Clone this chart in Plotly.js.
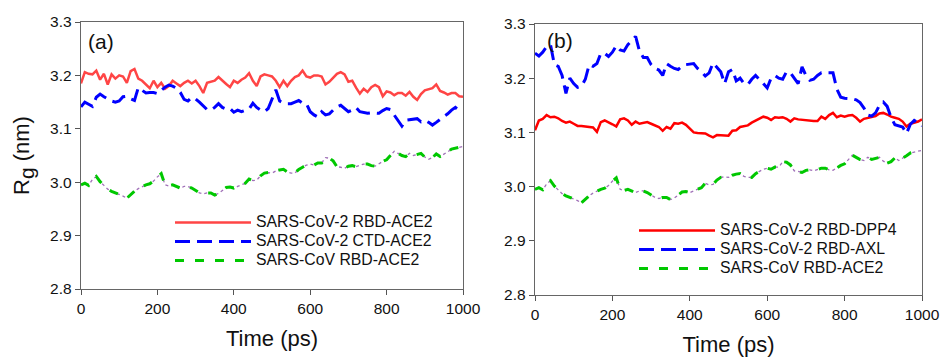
<!DOCTYPE html>
<html>
<head>
<meta charset="utf-8">
<script src="https://cdn.plot.ly/plotly-3.0.1.min.js"></script>
<style>
  html, body { margin: 0; padding: 0; background: #fff; }
  #chart { width: 940px; height: 357px; }
</style>
</head>
<body>
<div id="chart"></div>
<script>
// Time (ps)
const time = [0,10,20,30,40,50,60,70,80,90,100,110,120,130,140,150,160,170,180,190,200,210,220,230,240,250,260,270,280,290,300,310,320,330,340,350,360,370,380,390,400,410,420,430,440,450,460,470,480,490,500,510,520,530,540,550,560,570,580,590,600,610,620,630,640,650,660,670,680,690,700,710,720,730,740,750,760,770,780,790,800,810,820,830,840,850,860,870,880,890,900,910,920,930,940,950,960,970,980,990,1000];

// Panel (a): SARS-CoV-2 RBD-ACE2
const rgCov2RbdAce2 = [3.185,3.206,3.203,3.202,3.209,3.192,3.203,3.183,3.202,3.194,
  3.200,3.198,3.186,3.208,3.212,3.194,3.190,3.182,3.176,3.190,
  3.178,3.186,3.175,3.180,3.190,3.185,3.180,3.186,3.190,3.185,
  3.190,3.180,3.167,3.186,3.188,3.190,3.197,3.190,3.184,3.178,
  3.190,3.186,3.192,3.196,3.204,3.190,3.180,3.198,3.202,3.200,
  3.198,3.190,3.178,3.190,3.180,3.190,3.197,3.200,3.209,3.198,
  3.196,3.200,3.200,3.198,3.183,3.188,3.195,3.203,3.206,3.202,
  3.188,3.190,3.177,3.166,3.175,3.169,3.178,3.182,3.178,3.161,
  3.170,3.168,3.163,3.167,3.167,3.162,3.169,3.160,3.154,3.165,
  3.172,3.174,3.176,3.183,3.171,3.168,3.164,3.167,3.167,3.161,3.160];

// Panel (a): SARS-CoV-2 CTD-ACE2
const rgCov2CtdAce2 = [3.141,3.150,3.146,3.142,3.159,3.165,3.160,3.156,3.152,3.150,
  3.152,3.160,3.161,3.156,3.153,3.177,3.172,3.167,3.168,3.168,
  3.166,3.172,3.178,3.182,3.180,3.176,3.168,3.155,3.152,3.159,
  3.156,3.150,3.142,3.136,3.135,3.140,3.147,3.140,3.137,3.138,
  3.131,3.135,3.132,3.135,3.137,3.148,3.140,3.135,3.132,3.138,
  3.155,3.173,3.152,3.148,3.147,3.147,3.150,3.153,3.148,3.147,
  3.132,3.126,3.122,3.132,3.126,3.128,3.135,3.141,3.144,3.138,
  3.132,3.135,3.140,3.132,3.130,3.129,3.130,3.130,3.129,3.134,
  3.138,3.136,3.125,3.115,3.105,3.116,3.117,3.118,3.119,3.113,
  3.116,3.112,3.107,3.112,3.118,3.123,3.128,3.135,3.140,3.134,3.132];

// Both panels: SARS-CoV RBD-ACE2
const rgCovRbdAce2 = [2.995,2.998,2.994,3.005,3.011,3.001,2.994,2.987,2.983,2.980,
  2.978,2.974,2.970,2.977,2.983,2.988,2.992,2.995,2.997,3.002,
  3.010,3.016,2.995,2.993,2.995,2.992,2.989,2.992,2.992,2.989,
  2.984,2.980,2.978,2.980,2.980,2.976,2.979,2.985,2.990,2.991,
  2.989,2.992,2.995,2.998,3.006,3.003,3.004,3.012,3.017,3.018,
  3.017,3.021,3.023,3.024,3.019,3.017,3.017,3.024,3.028,3.032,
  3.034,3.032,3.036,3.036,3.046,3.045,3.040,3.029,3.028,3.026,
  3.030,3.031,3.029,3.032,3.034,3.034,3.031,3.030,3.035,3.039,
  3.042,3.050,3.058,3.054,3.050,3.048,3.054,3.050,3.052,3.054,
  3.047,3.043,3.046,3.053,3.048,3.052,3.057,3.062,3.064,3.066,3.067];

// Panel (b): SARS-CoV-2 RBD-DPP4
const rgCov2RbdDpp4 = [3.104,3.122,3.125,3.132,3.128,3.129,3.126,3.121,3.118,3.120,
  3.116,3.112,3.112,3.111,3.111,3.109,3.101,3.119,3.122,3.119,
  3.115,3.111,3.124,3.126,3.122,3.114,3.120,3.116,3.118,3.119,
  3.116,3.113,3.110,3.103,3.110,3.107,3.117,3.116,3.118,3.114,
  3.106,3.100,3.099,3.098,3.098,3.094,3.091,3.095,3.095,3.094,
  3.094,3.103,3.104,3.110,3.112,3.113,3.118,3.122,3.126,3.129,
  3.127,3.123,3.128,3.127,3.128,3.125,3.120,3.126,3.124,3.123,
  3.122,3.122,3.121,3.121,3.129,3.125,3.132,3.136,3.128,3.131,
  3.129,3.131,3.132,3.127,3.120,3.125,3.127,3.128,3.130,3.135,
  3.136,3.133,3.129,3.127,3.125,3.120,3.111,3.116,3.118,3.120,3.124];

// Panel (b): SARS-CoV-2 RBD-AXL
const rgCov2RbdAxl = [3.246,3.241,3.248,3.258,3.262,3.225,3.222,3.205,3.172,3.200,
  3.190,3.183,3.185,3.198,3.225,3.222,3.227,3.246,3.246,3.240,
  3.248,3.260,3.252,3.250,3.262,3.270,3.277,3.250,3.238,3.238,
  3.225,3.218,3.215,3.205,3.227,3.222,3.218,3.216,3.222,3.225,
  3.226,3.227,3.218,3.212,3.204,3.210,3.228,3.220,3.212,3.190,
  3.212,3.216,3.195,3.200,3.190,3.188,3.198,3.205,3.198,3.190,
  3.182,3.200,3.205,3.200,3.198,3.212,3.210,3.200,3.190,3.221,
  3.205,3.196,3.198,3.205,3.210,3.210,3.210,3.210,3.180,3.165,
  3.163,3.163,3.162,3.160,3.155,3.145,3.132,3.130,3.136,3.150,
  3.156,3.148,3.128,3.114,3.112,3.110,3.098,3.115,3.122,3.118,3.112];

const xTicks = [0,200,400,600,800,1000];
const yTicks = [2.8,2.9,3.0,3.1,3.2,3.3];

const FONT = 'Arial, "Liberation Sans", sans-serif';
const purple = '#a070b8';

function dotsUnder(y, xa, ya) {
  return {x: time, y: y, xaxis: xa, yaxis: ya, mode: 'lines', showlegend: false, hoverinfo: 'skip',
          line: {color: purple, width: 1.3, dash: 'dot'}};
}
function lbl(s) { return '<span style="font-size:15.8px">' + s + '</span>'; }

const data = [
  // panel a
  dotsUnder(rgCovRbdAce2, 'x', 'y'),
  {x: time, y: rgCov2RbdAce2, xaxis: 'x', yaxis: 'y', mode: 'lines', name: lbl('SARS-CoV-2 RBD-ACE2'),
   legend: 'legend', line: {color: '#ff4545', width: 2.5}},
  {x: time, y: rgCov2CtdAce2, xaxis: 'x', yaxis: 'y', mode: 'lines', name: lbl('SARS-CoV-2 CTD-ACE2'),
   legend: 'legend', line: {color: '#0000ff', width: 3, dash: '15px,7px'}},
  {x: time, y: rgCovRbdAce2, xaxis: 'x', yaxis: 'y', mode: 'lines', name: lbl('SARS-CoV RBD-ACE2'),
   legend: 'legend', line: {color: '#00c800', width: 3, dash: '9px,11px'}},
  // panel b
  dotsUnder(rgCovRbdAce2, 'x2', 'y2'),
  {x: time, y: rgCov2RbdDpp4, xaxis: 'x2', yaxis: 'y2', mode: 'lines', name: lbl('SARS-CoV-2 RBD-DPP4'),
   legend: 'legend2', line: {color: '#ff0000', width: 2.5}},
  {x: time, y: rgCov2RbdAxl, xaxis: 'x2', yaxis: 'y2', mode: 'lines', name: lbl('SARS-CoV-2 RBD-AXL'),
   legend: 'legend2', line: {color: '#0000ff', width: 3, dash: '15px,7px'}},
  {x: time, y: rgCovRbdAce2, xaxis: 'x2', yaxis: 'y2', mode: 'lines', name: lbl('SARS-CoV RBD-ACE2'),
   legend: 'legend2', line: {color: '#00c800', width: 3, dash: '9px,11px'}}
];

function xAxis(domain, anchor) {
  return {domain: domain, anchor: anchor, range: [0, 1000], tickvals: xTicks, ticktext: xTicks.map(String),
    ticks: 'outside', ticklen: 5, tickcolor: '#555', showline: true, linecolor: '#666', linewidth: 1.3,
    mirror: true, showgrid: false, zeroline: false, tickfont: {family: FONT, size: 15.5, color: '#111'},
    title: {text: 'Time (ps)', font: {family: FONT, size: 22, color: '#111'}, standoff: 14}};
}
function yAxis(domain, anchor, withTitle) {
  const ax = {domain: domain, anchor: anchor, range: [2.8, 3.3], tickvals: yTicks,
    ticktext: yTicks.map(v => v.toFixed(1)),
    ticks: 'outside', ticklen: 5, tickcolor: '#555', showline: true, linecolor: '#666', linewidth: 1.3,
    mirror: true, showgrid: false, zeroline: false, tickfont: {family: FONT, size: 15.5, color: '#111'}};
  if (withTitle) ax.title = {text: 'R<sub><span style="font-size:21px">g</span></sub> (nm)',
                             font: {family: FONT, size: 22, color: '#111'}, standoff: 14};
  return ax;
}

const legendFont = {family: FONT, size: 12, color: '#111'};
const layout = {
  width: 940, height: 357,
  margin: {l: 0, r: 0, t: 0, b: 0},
  paper_bgcolor: '#fff', plot_bgcolor: '#fff',
  showlegend: true,
  xaxis: xAxis([81/940, 463/940], 'y'),
  yaxis: yAxis([1 - 289/357, 1 - 22/357], 'x', true),
  xaxis2: xAxis([535/940, 922/940], 'y2'),
  yaxis2: yAxis([1 - 295/357, 1 - 24/357], 'x2', false),
  legend: {x: 170/940, y: 1 - 208/357, xanchor: 'left', yanchor: 'top', bgcolor: 'rgba(0,0,0,0)',
           font: legendFont, itemwidth: 76, tracegroupgap: 0},
  legend2: {x: 634/940, y: 1 - 216/357, xanchor: 'left', yanchor: 'top', bgcolor: 'rgba(0,0,0,0)',
           font: legendFont, itemwidth: 76, tracegroupgap: 0},
  annotations: [
    {text: '(a)', xref: 'paper', yref: 'paper', x: 86/940, y: 1 - 41/357, xanchor: 'left', yanchor: 'middle',
     showarrow: false, font: {family: FONT, size: 21, color: '#111'}},
    {text: '(b)', xref: 'paper', yref: 'paper', x: 545/940, y: 1 - 40/357, xanchor: 'left', yanchor: 'middle',
     showarrow: false, font: {family: FONT, size: 21, color: '#111'}}
  ]
};

Plotly.newPlot('chart', data, layout, {staticPlot: true, displayModeBar: false});
</script>
</body>
</html>
